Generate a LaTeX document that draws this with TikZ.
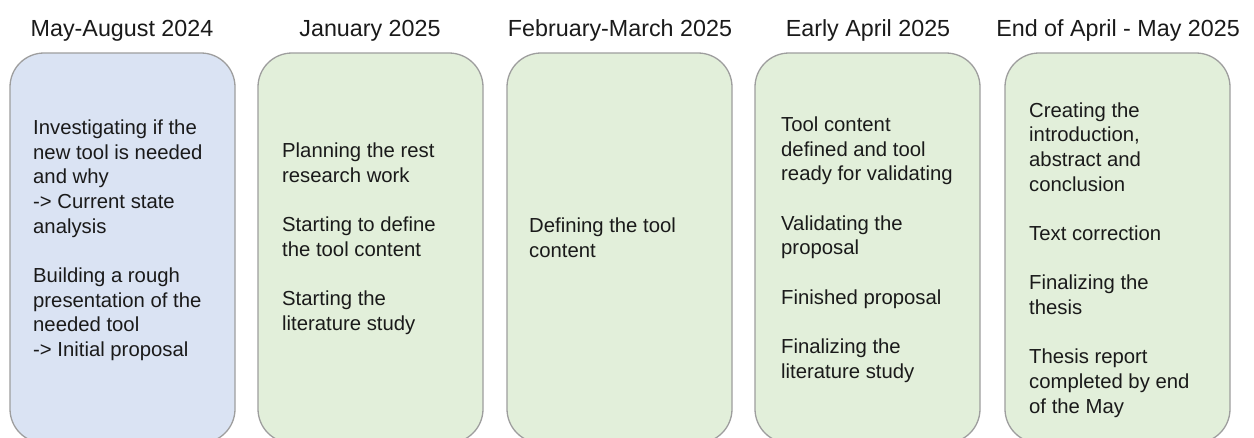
\documentclass[tikz,border=0pt]{standalone}
\usepackage{fontspec}
\setmainfont{Liberation Sans}
\definecolor{phaseblue}{HTML}{DAE3F3}
\definecolor{phasegreen}{HTML}{E2EFDA}
\definecolor{phaseedge}{HTML}{9E9E9E}
\definecolor{ink}{HTML}{1A1A1A}
\begin{document}
\begin{tikzpicture}[x=1pt,y=-1pt,
  phase/.style={draw=phaseedge,line width=1.3pt,rounded corners=34pt},
  heading/.style={anchor=base,inner sep=0pt,text=ink,
    font=\fontsize{23.3}{28}\selectfont},
  body/.style={anchor=base west,inner sep=0pt,align=left,text=ink,
    font=\fontsize{20.3}{24.65}\selectfont}]
\useasboundingbox (0,0) rectangle (1254,437);
\fill[white] (0,0) rectangle (1254,437);

% phase boxes (their lower edge runs past the page)
\draw[phase,fill=phaseblue]  (10,53)   rectangle (235,443);
\draw[phase,fill=phasegreen] (258,53)  rectangle (483,443);
\draw[phase,fill=phasegreen] (507,53)  rectangle (732,443);
\draw[phase,fill=phasegreen] (755,53)  rectangle (980,443);
\draw[phase,fill=phasegreen] (1005,53) rectangle (1230,443);

% headings
\node[heading] (h1) at (122,36)  {May-August 2024};
\node[heading] (h2) at (370,36)  {January 2025};
\node[heading] (h3) at (620,36)  {February-March 2025};
\node[heading] (h4) at (868,36)  {Early April 2025};
\node[heading] (h5) at (1118,36) {End of April - May 2025};

% phase contents, each placed by the baseline of its last line
\node[body] (t1) at (33,356.5) {Investigating if the\\new tool is needed\\and why\\-> Current state\\analysis\\[24.65pt]Building a rough\\presentation of the\\needed tool\\-> Initial proposal};
\node[body] (t2) at (282,330.5) {Planning the rest\\research work\\[24.65pt]Starting to define\\the tool content\\[24.65pt]Starting the\\literature study};
\node[body] (t3) at (529,257) {Defining the tool\\content};
\node[body] (t4) at (781,378) {Tool content\\defined and tool\\ready for validating\\[24.65pt]Validating the\\proposal\\[24.65pt]Finished proposal\\[24.65pt]Finalizing the\\literature study};
\node[body] (t5) at (1029,413) {Creating the\\introduction,\\abstract and\\conclusion\\[24.65pt]Text correction\\[24.65pt]Finalizing the\\thesis\\[24.65pt]Thesis report\\completed by end\\of the May};
\end{tikzpicture}
\end{document}
